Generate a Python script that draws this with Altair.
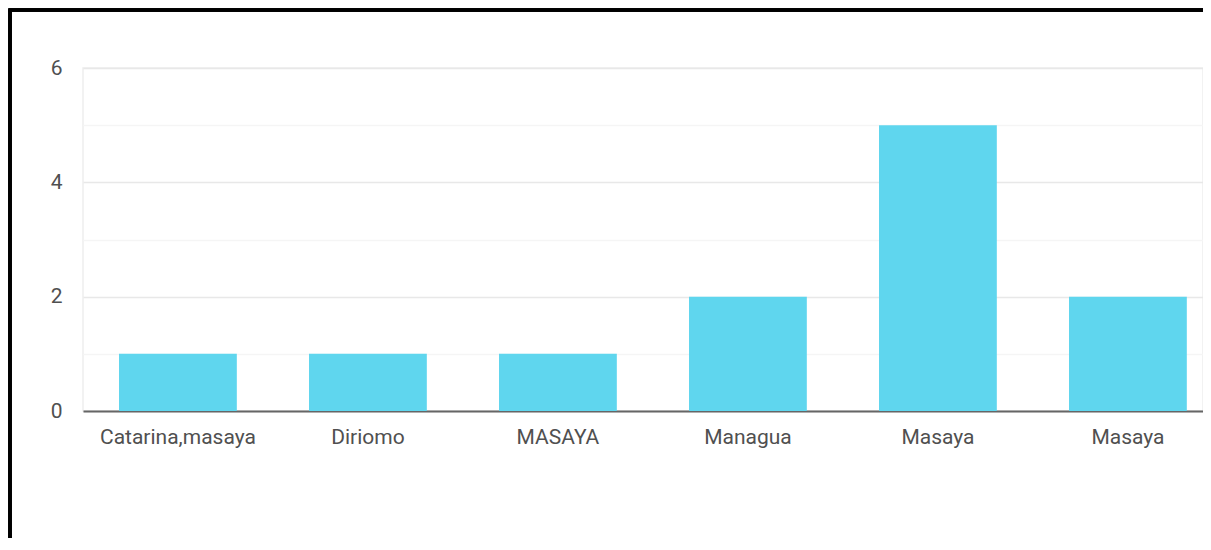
import altair as alt
import pandas as pd

categories = ["Catarina,masaya", "Diriomo", "MASAYA", "Managua", "Masaya", "Masaya "]
counts = [1, 1, 1, 2, 5, 2]
y_ticks = [0, 1, 2, 3, 4, 5, 6]

df = pd.DataFrame({"lugar": categories, "n": counts})

W, H = 1120, 343

bars = alt.Chart(df).mark_bar(color="#5fd6ee").encode(
    x=alt.X(
        "lugar:N",
        sort=None,
        title=None,
        scale=alt.Scale(paddingInner=0.38, paddingOuter=0.1374, align=0.69),
        axis=alt.Axis(
            labelAngle=0,
            labelFont="Roboto",
            labelFontSize=21,
            labelColor="#505050",
            labelPadding=15,
            ticks=False,
            domainColor="#666666",
            domainWidth=2,
            grid=False,
        ),
    ),
    y=alt.Y(
        "n:Q",
        title=None,
        scale=alt.Scale(domain=[0, 6], nice=False),
        axis=alt.Axis(
            values=y_ticks,
            labelExpr="datum.value % 2 === 0 ? datum.label : ''",
            labelFont="Roboto",
            labelFontSize=21,
            labelColor="#505050",
            labelPadding=21,
            ticks=False,
            domain=False,
            gridColor={
                "condition": {"test": "datum.value % 2 === 0", "value": "#e8e8e8"},
                "value": "#f5f5f5",
            },
            gridWidth=1.5,
        ),
    ),
)

frame_left = alt.Chart(df).mark_rule(color="black", strokeWidth=3).encode(
    x=alt.value(-73), y=alt.value(-58), y2=alt.value(H + 140)
)
frame_top = alt.Chart(df).mark_rule(color="black", strokeWidth=3).encode(
    x=alt.value(-74.5), x2=alt.value(W + 10), y=alt.value(-58)
)

chart = (
    alt.layer(bars, frame_left, frame_top)
    .properties(
        width=W,
        height=H,
        autosize=alt.AutoSizeParams(type="none"),
        padding={"left": 75, "top": 60, "right": 0, "bottom": 127},
    )
    .configure_view(stroke="#eeeeee", strokeWidth=1.5)
)

chart.save("out.html", embed_options={"renderer": "svg", "actions": False})
